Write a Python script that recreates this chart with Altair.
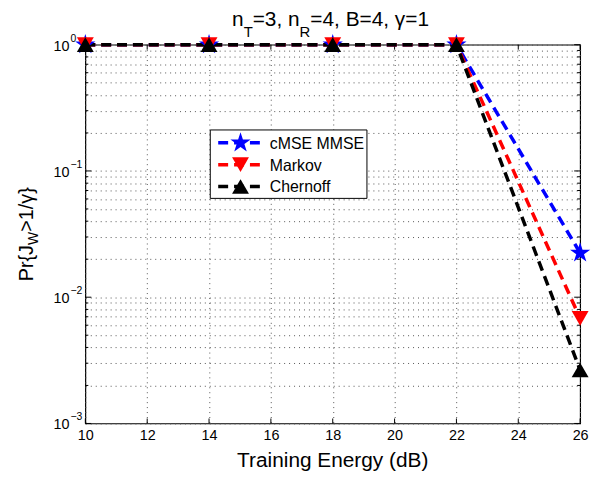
import altair as alt
import pandas as pd

# ---------------- data ----------------
x_vals = [10, 14, 18, 22, 26]
cmse_mmse = [1.0, 1.0, 1.0, 1.0, 0.0224]
markov = [1.0, 1.0, 1.0, 1.0, 0.0068]
chernoff = [1.0, 1.0, 1.0, 1.0, 0.00265]
series_names = ["cMSE MMSE", "Markov", "Chernoff"]
series_colors = ["#0000ff", "#ff0000", "#000000"]
x_ticks = [10, 12, 14, 16, 18, 20, 22, 24, 26]
y_decades = [1.0, 0.1, 0.01, 0.001]
y_exponents = ["0", "\u22121", "\u22122", "\u22123"]
y_minor = [0.002, 0.003, 0.004, 0.005, 0.006, 0.007, 0.008, 0.009,
           0.02, 0.03, 0.04, 0.05, 0.06, 0.07, 0.08, 0.09,
           0.2, 0.3, 0.4, 0.5, 0.6, 0.7, 0.8, 0.9]

W, H = 499, 382
FONT = "Liberation Sans"

STAR = ("M0,-1L0.225,-0.309L0.951,-0.309L0.363,0.118L0.588,0.809L0,0.382"
        "L-0.588,0.809L-0.363,0.118L-0.951,-0.309L-0.225,-0.309Z")
shapes = [STAR, "triangle-down", "triangle-up"]
sizes = [460, 290, 290]

xscale = alt.Scale(domain=[10, 26], nice=False, zero=False)
yscale = alt.Scale(type="log", domain=[0.001, 1], nice=False)
xaxis = alt.Axis(values=x_ticks, grid=True, gridDash=[1, 4], gridColor="#555",
                 gridWidth=1, ticks=False, domain=False, labelFontSize=14.5,
                 labelFont=FONT, labelColor="black", labelPadding=5,
                 labelFlush=False, title=None)
yaxis = alt.Axis(values=y_decades + y_minor, grid=True, gridDash=[1, 4],
                 gridColor="#555", gridWidth=1, ticks=False, domain=False,
                 labels=False, title=None)

X = lambda f="x": alt.X(f"{f}:Q", scale=xscale, axis=xaxis)
Y = lambda f="y": alt.Y(f"{f}:Q", scale=yscale, axis=yaxis)

layers = []

# grid / axes base
base_df = pd.DataFrame({"x": x_vals, "y": cmse_mmse})
layers.append(alt.Chart(base_df).mark_point(opacity=0).encode(x=X(), y=Y()))

# inward ticks
xt = pd.DataFrame({"x": x_ticks})
layers.append(alt.Chart(xt).mark_rule(color="black").encode(
    x=X(), y=alt.value(H), y2=alt.value(H - 5)))
layers.append(alt.Chart(xt).mark_rule(color="black").encode(
    x=X(), y=alt.value(0), y2=alt.value(5)))
ymaj = pd.DataFrame({"y": y_decades})
ymin = pd.DataFrame({"y": y_minor})
for df, ln in [(ymaj, 6), (ymin, 3)]:
    layers.append(alt.Chart(df).mark_rule(color="black").encode(
        y=Y(), x=alt.value(0), x2=alt.value(ln)))
    layers.append(alt.Chart(df).mark_rule(color="black").encode(
        y=Y(), x=alt.value(W), x2=alt.value(W - ln)))

# series
all_vals = [cmse_mmse, markov, chernoff]
for name, vals, col in zip(series_names, all_vals, series_colors):
    df = pd.DataFrame({"x": x_vals, "y": vals, "s": name})
    layers.append(alt.Chart(df).mark_line(
        color=col, strokeWidth=3.5, strokeDash=[10, 6]).encode(x=X(), y=Y()))
for name, vals, col, shp, sz in zip(series_names, all_vals, series_colors, shapes, sizes):
    df = pd.DataFrame({"x": x_vals, "y": vals, "s": name})
    layers.append(alt.Chart(df).mark_point(
        shape=shp, filled=True, size=sz, color=col, opacity=1).encode(x=X(), y=Y()))

# y tick labels 10^k
ylab = pd.DataFrame({"y": y_decades, "e": y_exponents, "b": ["10"] * 4})
layers.append(alt.Chart(ylab).mark_text(
    align="right", baseline="middle", font=FONT, fontSize=14.5, color="black", dy=2).encode(
    y=Y(), x=alt.value(-16), text="b:N"))
layers.append(alt.Chart(ylab).mark_text(
    align="left", baseline="middle", font=FONT, fontSize=10.5, color="black", dy=-6).encode(
    y=Y(), x=alt.value(-15), text="e:N"))

# text width helper (Arial / Liberation Sans metrics)
AW = {"n": 556, "T": 611, "=": 584, "3": 556, ",": 278, " ": 278, "R": 722,
      "4": 556, "B": 667, "\u03b3": 521, "1": 556, "P": 667, "r": 333,
      "{": 334, "J": 500, "W": 944, ">": 584, "/": 278, "}": 334}


def tw(s, size):
    return sum(AW.get(c, 556) for c in s) * size / 1000.0


def seg_layer(text, x, y, size, angle=0):
    return alt.Chart(pd.DataFrame({"t": [text]})).mark_text(
        align="left", baseline="alphabetic", font=FONT, fontSize=size,
        color="black", angle=angle).encode(
        x=alt.value(x), y=alt.value(y), text="t:N")

# title with subscripts
title_segs = [("n", 0), ("T", 1), ("=3, n", 0), ("R", 1), ("=4, B=4, \u03b3=1", 0)]
MS, SS = 21, 15
total = sum(tw(s, SS if sub else MS) for s, sub in title_segs)
cx = W / 2 - 2 - total / 2
for s, sub in title_segs:
    sz = SS if sub else MS
    layers.append(seg_layer(s, cx, -8 if sub else -19, sz))
    cx += tw(s, sz)

# y axis label with subscript (rotated)
YS, YSS = 20, 14
ylab_segs = [("Pr{J", 0), ("W", 1), (">1/\u03b3}", 0)]
total = sum(tw(s, YSS if sub else YS) for s, sub in ylab_segs)
cy = H / 2 + total / 2
for s, sub in ylab_segs:
    sz = YSS if sub else YS
    layers.append(seg_layer(s, -48 if sub else -53, cy, sz, angle=270))
    cy -= tw(s, sz)

# x axis title
layers.append(alt.Chart(pd.DataFrame({"t": ["Training Energy (dB)"]})).mark_text(
    align="center", baseline="alphabetic", font=FONT, fontSize=21, color="black").encode(
    x=alt.value(W / 2), y=alt.value(H + 44), text="t:N"))

# legend box
LX0, LX1, LY0, LY1 = 126, 284, 86, 155
layers.append(alt.Chart(pd.DataFrame({"a": [0]})).mark_rect(
    fill="white", stroke="black", strokeWidth=1).encode(
    x=alt.value(LX0), x2=alt.value(LX1), y=alt.value(LY0), y2=alt.value(LY1)))
rows = [99, 121, 143]
for name, col, shp, sz, ry in zip(series_names, series_colors, shapes, sizes, rows):
    d = pd.DataFrame({"t": [name]})
    layers.append(alt.Chart(d).mark_rule(
        color=col, strokeWidth=3.5, strokeDash=[10, 6]).encode(
        x=alt.value(134), x2=alt.value(179), y=alt.value(ry)))
    layers.append(alt.Chart(d).mark_point(
        shape=shp, filled=True, size=sz, color=col, opacity=1).encode(
        x=alt.value(156.5), y=alt.value(ry)))
    layers.append(alt.Chart(d).mark_text(
        align="left", baseline="middle", font=FONT, fontSize=16, color="black").encode(
        x=alt.value(186), y=alt.value(ry + 1), text="t:N"))

chart = alt.layer(*layers).properties(
    width=W, height=H,
    autosize=alt.AutoSizeParams(type="none"),
    padding={"left": 78, "top": 35, "right": 15, "bottom": 52},
    background="white",
).configure_view(stroke="black", strokeWidth=1.2)

chart.save("out.html", embed_options={"renderer": "svg", "actions": False})
